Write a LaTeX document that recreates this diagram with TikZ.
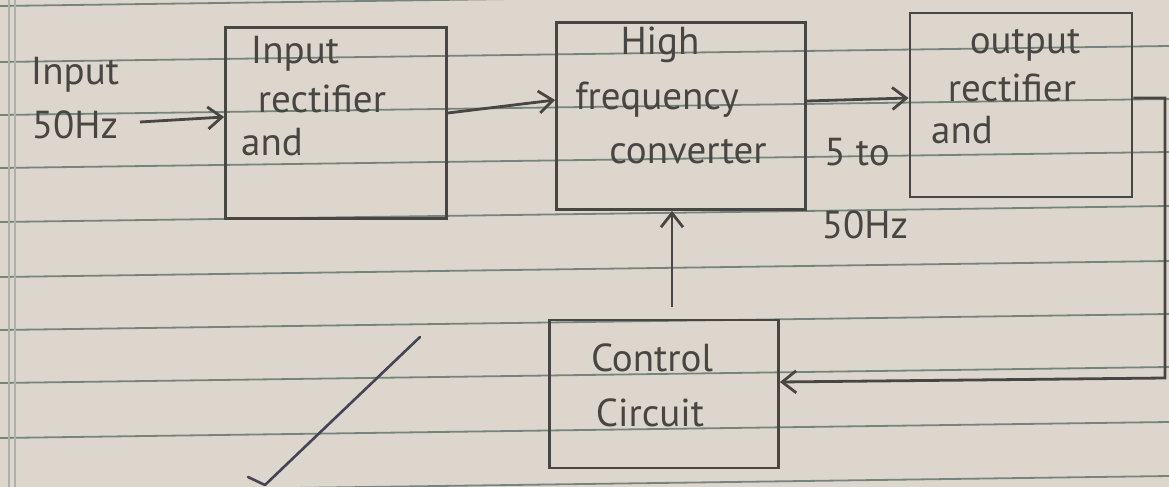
\documentclass[tikz,border=0pt]{standalone}
\usepackage{fontspec}
\setmainfont{PT Sans}
\usetikzlibrary{arrows.meta}
\definecolor{paper}{RGB}{220,214,205}
\definecolor{rulec}{RGB}{118,132,126}
\definecolor{ink}{RGB}{72,70,66}
\definecolor{tick}{RGB}{68,68,86}
\begin{document}
\begin{tikzpicture}[x=0.5pt,y=-0.5pt,
  box/.style={draw=ink,line width=1.4pt,inner sep=0pt},
  lbl/.style={text=ink,font=\fontsize{19.5}{24}\selectfont,inner sep=0pt},
  arr/.style={draw=ink,line width=1.4pt,-{Straight Barb[length=7pt,width=11pt,line width=1.4pt]}},
  ruled/.style={draw=rulec,line width=0.9pt}]
\useasboundingbox (0,0) rectangle (1169,487);
\fill[paper] (0,0) rectangle (1169,487);
% ruled paper
\foreach \y in {6,62,115,168,222,277,330,383,438,492}
  \draw[ruled] (0,\y) -- (1169,\y-16);
\draw[rulec!45!paper,line width=0.6pt] (9,0) -- (9,487);
\draw[rulec!45!paper,line width=0.6pt] (15,0) -- (15,487);
% boxes
\node[box,minimum width=110.5pt,minimum height=95.5pt] (b1) at (336,123) {};
\node[box,minimum width=124.5pt,minimum height=93.5pt] (b2) at (681,116) {};
\node[box,minimum width=111pt,minimum height=92pt] (b3) at (1021,105) {};
\node[box,minimum width=114.5pt,minimum height=74pt] (b4) at (664,394) {};
% texts
\node[lbl] (t0a) at (75,75) {Input};
\node[lbl] (t0b) at (75,125) {50Hz};
\node[lbl] (t1a) at (295,54) {Input};
\node[lbl] (t1b) at (322,99) {rectifier};
\node[lbl] (t1c) at (272,142) {and};
\node[lbl] (t2a) at (660,45) {High};
\node[lbl] (t2b) at (657,100) {frequency};
\node[lbl] (t2c) at (688,152) {converter};
\node[lbl] (t2d) at (857,152) {5 to};
\node[lbl] (t2e) at (865,225) {50Hz};
\node[lbl] (t3a) at (1025,45) {output};
\node[lbl] (t3b) at (1012,88) {rectifier};
\node[lbl] (t3c) at (962,130) {and};
\node[lbl] (t4a) at (652,358) {Control};
\node[lbl] (t4b) at (650,413) {Circuit};
% connectors
\coordinate (inp) at (140,122);
\draw[arr] (inp) -- (b1.west |- 0,117);
\draw[arr] (b1.east |- 0,113) -- (b2.west |- 0,100);
\draw[arr] (b2.east |- 0,101) -- (b3.west |- 0,98);
\draw[arr,shorten <=6pt] (b4.north -| 672,0) -- (b2.south -| 672,0);
\draw[arr] (b3.east |- 0,98) -- (1165,98) -- (1165,378) -- (b4.east |- 0,382);
% tick mark
\draw[tick,line width=1.3pt,line cap=round,line join=round] (248,477) -- (265,485) -- (420,337);
\end{tikzpicture}
\end{document}
